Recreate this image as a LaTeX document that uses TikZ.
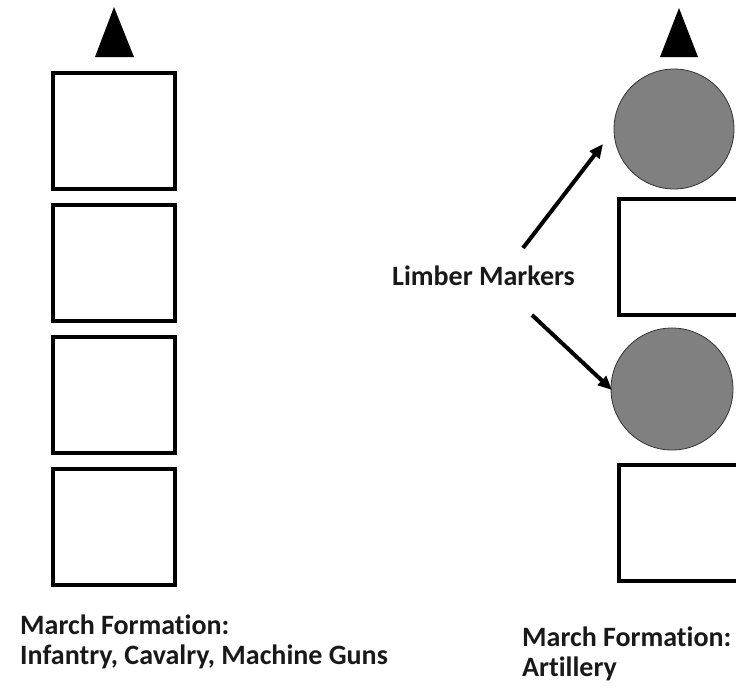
\documentclass[tikz,border=0pt]{standalone}
\usepackage{fontspec}
\setmainfont{Carlito}[Ligatures=NoCommon]
\usetikzlibrary{arrows.meta}

\tikzset{
  unitbox/.style={draw=black, line width=4pt, fill=white, minimum width=122pt,
                  minimum height=116pt, inner sep=0pt, outer sep=0pt},
  limber/.style={circle, draw=black!80, line width=0.8pt, fill=black!50,
                 minimum size=120pt, inner sep=0pt, outer sep=0pt},
  heading/.style={fill=black},
  caption/.style={inner sep=0pt, anchor=base west,
                  font=\fontsize{28}{30}\selectfont\bfseries, text=black!90},
  pointer/.style={line width=4pt, -{Triangle[length=14pt,width=12pt]}},
}

\begin{document}
\begin{tikzpicture}[x=1pt, y=-1pt]
  \useasboundingbox (0,0) rectangle (736,689);

  % Column in march order: infantry, cavalry, machine guns
  \fill[heading] (114,7) -- (134,57) -- (95,57) -- cycle;
  \node[unitbox] (u1) at (114,131) {};
  \node[unitbox] (u2) at (114,263) {};
  \node[unitbox] (u3) at (114,395) {};
  \node[unitbox] (u4) at (114,527) {};

  \node[caption] (capA1) at (20,634) {March Formation:};
  \node[caption] (capA2) at (20,664) {Infantry, Cavalry, Machine Guns};

  % Column in march order: artillery with limbers
  \begin{scope}
    \clip (0,0) rectangle (736,689);
    \fill[heading] (679,8) -- (698,57) -- (660,57) -- cycle;
    \node[limber] (c1) at (674,129) {};
    \node[unitbox] (g1) at (680,256.5) {};
    \node[limber, minimum size=122pt] (c2) at (672,389) {};
    \node[unitbox] (g2) at (680,522.5) {};
  \end{scope}

  \node[caption] (capB1) at (522,646) {March Formation:};
  \node[caption] (capB2) at (522,676) {Artillery};

  % Label with pointers to the limber markers
  \node[caption] (lim) at (392,285) {Limber Markers};
  \coordinate (p1s) at (523,248);
  \coordinate (p1e) at (603,144);
  \coordinate (p2s) at (532,315);
  \coordinate (p2e) at (612,390);
  \draw[pointer] (p1s) -- (p1e);
  \draw[pointer] (p2s) -- (p2e);
\end{tikzpicture}
\end{document}
